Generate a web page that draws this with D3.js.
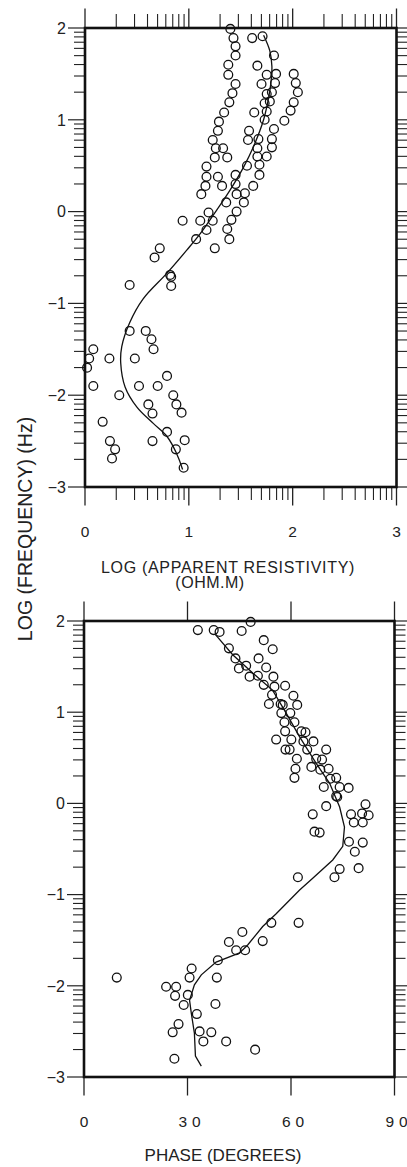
<!DOCTYPE html>
<meta charset="utf-8">
<script src="https://d3js.org/d3.v7.min.js"></script>
<style>
  body { margin: 0; background: #fff; }
  text { font-family: "Liberation Sans", Arial, sans-serif; fill: #222; }
</style>
<div id="my_dataviz"></div>

<script>
// ---- data ----
// top panel: [log apparent resistivity, log frequency]
var rhoInner = [
  [1.40,1.99],[1.43,1.89],[1.45,1.80],[1.45,1.70],[1.38,1.60],[1.38,1.49],[1.45,1.39],[1.42,1.29],
  [1.39,1.19],[1.34,1.08],[1.29,0.98],[1.28,0.88],[1.23,0.78],[1.26,0.69],[1.33,0.69],[1.25,0.59],
  [1.37,0.59],[1.17,0.49],[1.17,0.38],[1.28,0.38],[1.16,0.28],[1.32,0.28],[1.12,0.19],[1.36,0.10],
  [1.19,-0.01],[1.11,-0.10],[1.23,-0.10],[0.94,-0.10],[1.17,-0.20],[1.07,-0.30],[1.25,-0.40],[0.72,-0.40],
  [0.67,-0.50],[0.82,-0.69],[0.83,-0.71],[0.83,-0.81],[0.43,-0.80]
]
var rhoMiddle = [
  [1.61,1.89],[1.71,1.91],[1.82,1.70],[1.66,1.59],[1.75,1.49],[1.84,1.50],[1.70,1.39],[1.83,1.40],
  [1.80,1.30],[1.75,1.28],[1.78,1.20],[1.73,1.18],[1.75,1.09],[1.63,1.08],[1.73,1.00],[1.58,0.88],
  [1.82,0.90],[1.57,0.78],[1.67,0.79],[1.80,0.79],[1.66,0.69],[1.80,0.70],[1.66,0.60],[1.75,0.60],
  [1.68,0.51],[1.56,0.50],[1.68,0.40],[1.45,0.40],[1.62,0.28],[1.45,0.30],[1.54,0.20],[1.46,0.19],
  [1.53,0.10],[1.46,0.00],[1.41,-0.09],[1.37,-0.19],[1.39,-0.30]
]
var rhoOuter = [[2.01,1.50],[2.03,1.40],[2.05,1.30],[2.01,1.19],[1.98,1.10],[1.92,0.99]]
var rhoLow = [
  [0.43,-1.30],[0.585,-1.30],[0.64,-1.39],[0.66,-1.50],[0.08,-1.50],[0.04,-1.60],[0.02,-1.70],[0.235,-1.60],
  [0.48,-1.60],[0.79,-1.79],[0.08,-1.90],[0.52,-1.90],[0.70,-1.90],[0.33,-2.00],[0.85,-2.00],[0.61,-2.10],
  [0.88,-2.10],[0.65,-2.20],[0.93,-2.19],[0.17,-2.29],[0.79,-2.40],[0.24,-2.50],[0.65,-2.50],[0.96,-2.49],
  [0.29,-2.59],[0.875,-2.59],[0.26,-2.69],[0.95,-2.79]
]
var rhoModel = [
  [1.72,1.92],[1.78,1.75],[1.80,1.58],[1.79,1.40],[1.77,1.25],[1.72,1.00],[1.62,0.70],[1.53,0.49],
  [1.40,0.24],[1.27,0.02],[1.11,-0.24],[0.98,-0.42],[0.79,-0.67],[0.56,-0.95],[0.43,-1.21],[0.354,-1.47],
  [0.344,-1.65],[0.386,-1.91],[0.50,-2.13],[0.66,-2.31],[0.79,-2.45],[0.88,-2.63],[0.94,-2.81]
]

// bottom panel: [phase in degrees, log frequency]
var phasePoints = [
  [48.3,1.99],[33.0,1.90],[37.6,1.90],[39.3,1.88],[45.7,1.89],[52.1,1.79],[54.7,1.69],[42.0,1.70],
  [43.9,1.59],[50.6,1.59],[47.0,1.51],[44.9,1.48],[52.8,1.49],[48.0,1.39],[50.4,1.40],[54.9,1.39],
  [52.1,1.30],[55.2,1.28],[58.3,1.29],[54.5,1.19],[60.7,1.18],[53.6,1.09],[57.0,1.09],[57.6,1.08],
  [61.8,1.08],[57.2,0.99],[59.8,0.99],[58.1,0.89],[61.0,0.89],[63.0,0.79],[64.2,0.78],[58.3,0.79],
  [55.7,0.70],[60.1,0.70],[63.6,0.68],[66.5,0.68],[58.4,0.59],[59.6,0.59],[64.7,0.59],[70.2,0.59],
  [61.7,0.49],[67.3,0.49],[69.0,0.48],[61.3,0.38],[65.9,0.40],[68.5,0.37],[70.9,0.38],[61.0,0.28],
  [71.4,0.27],[73.1,0.28],[69.5,0.18],[74.1,0.18],[76.7,0.17],[73.1,0.08],[73.4,0.07],[70.2,-0.03],
  [81.6,-0.01],[66.3,-0.12],[77.4,-0.12],[80.6,-0.11],[82.5,-0.13],[78.2,-0.21],[80.8,-0.21],[66.8,-0.31],
  [68.3,-0.32],[76.8,-0.42],[80.8,-0.43],[78.5,-0.53],[79.6,-0.71],[74.1,-0.72],[72.6,-0.81],[62.0,-0.81],
  [62.2,-1.31],[54.3,-1.31],[45.9,-1.41],[42.0,-1.52],[51.8,-1.51],[44.1,-1.61],[46.7,-1.61],[38.8,-1.72],
  [31.2,-1.81],[30.6,-1.91],[38.5,-1.91],[9.5,-1.91],[23.8,-2.01],[26.7,-2.01],[26.4,-2.11],[30.1,-2.10],
  [28.9,-2.21],[38.1,-2.20],[32.7,-2.31],[27.4,-2.42],[25.7,-2.51],[33.5,-2.50],[36.9,-2.51],[34.6,-2.61],
  [41.2,-2.61],[49.6,-2.70],[26.2,-2.80]
]
var phaseModel = [
  [38.1,1.85],[43.1,1.63],[48.9,1.43],[54.7,1.24],[58.6,0.99],[62.5,0.73],[67.3,0.44],[71.2,0.22],
  [74.1,-0.04],[75.5,-0.26],[75.0,-0.47],[72.1,-0.62],[66.3,-0.82],[62.5,-0.95],[55.7,-1.21],[51.8,-1.35],
  [47.5,-1.55],[45.1,-1.64],[38.3,-1.74],[34.0,-1.88],[32.0,-1.99],[30.6,-2.16],[31.1,-2.30],[32.0,-2.52],
  [32.3,-2.77],[34.0,-2.88]
]

// ticks
var freqTicks = [-3, -2, -1, 0, 1, 2]
var rhoTicks = [0, 1, 2, 3]
var phaseTicks = [0, 30, 60, 90]

// log minor ticks inside each decade (2..9)
function minorTicks(lo, hi) {
  var out = []
  for (var d = lo; d < hi; d++)
    for (var k = 2; k < 10; k++) out.push(d + Math.log10(k))
  return out
}

var svg = d3.select("#my_dataviz")
  .append("svg")
  .attr("width", 407)
  .attr("height", 1167)

var fmtTick = function (d) { return d < 0 ? "\u2212" + Math.abs(d) : String(d) }

// plain tick marks drawn from a scale; side = left/right/top/bottom
function tickMarks(scale, values, side, at, len, w) {
  var vert = side == "left" || side == "right"
  var dir = (side == "left" || side == "top") ? -1 : 1
  svg.append("g").selectAll("line")
    .data(values)
    .enter().append("line")
    .attr(vert ? "y1" : "x1", function (d) { return scale(d) })
    .attr(vert ? "y2" : "x2", function (d) { return scale(d) })
    .attr(vert ? "x1" : "y1", at)
    .attr(vert ? "x2" : "y2", at + dir * len)
    .attr("stroke", "#222")
    .attr("stroke-width", w)
}

// draws one framed panel with log-frequency on the vertical axis
function panel(opt) {
  var x = d3.scaleLinear().domain(opt.xDomain).range([opt.left, opt.right])
  var y = d3.scaleLinear().domain([-3, 2]).range([opt.bottom, opt.top])

  // left / right log-frequency ticks
  tickMarks(y, minorTicks(-3, 2), "left", opt.left, 11, 1.1)
  tickMarks(y, freqTicks, "left", opt.left, 17, 1.2)
  tickMarks(y, minorTicks(-3, 2), "right", opt.right, 11, 1.1)
  tickMarks(y, freqTicks, "right", opt.right, 14, 1.2)

  svg.append("g").selectAll("text")
    .data(freqTicks)
    .enter().append("text")
    .attr("x", opt.left - 19)
    .attr("y", function (d) { return y(d) })
    .attr("dy", "0.36em")
    .attr("text-anchor", "end")
    .attr("font-size", 16)
    .attr("fill", "#333")
    .text(fmtTick)

  // top / bottom ticks
  if (opt.xMinor) {
    tickMarks(x, opt.xMinor, "top", opt.top, 14, 1.1)
    tickMarks(x, opt.xMinor, "bottom", opt.bottom, 13, 1.1)
  }
  tickMarks(x, opt.xTicks, "top", opt.top, 19.5, 1.3)
  tickMarks(x, opt.xTicks, "bottom", opt.bottom, 18.5, 1.3)

  // wide-spaced numerals as in the original plot
  svg.append("g").selectAll("text")
    .data(opt.xTicks)
    .enter().append("text")
    .attr("x", function (d) { return x(d) + 2.5 + (d >= 10 ? 2 : 0) })
    .attr("y", opt.bottom + opt.labelDrop)
    .attr("text-anchor", "middle")
    .attr("letter-spacing", "5px")
    .attr("font-size", 15.5)
    .attr("fill", "#333")
    .text(fmtTick)

  // frame
  svg.append("rect")
    .attr("x", opt.left).attr("y", opt.top)
    .attr("width", opt.right - opt.left).attr("height", opt.bottom - opt.top)
    .attr("fill", "none").attr("stroke", "#111").attr("stroke-width", 2.6)

  // model curve
  svg.append("path")
    .datum(opt.model)
    .attr("fill", "none").attr("stroke", "#111").attr("stroke-width", 1.3)
    .attr("d", d3.line().x(function (d) { return x(d[0]) }).y(function (d) { return y(d[1]) }).curve(opt.curve))

  // observed points
  svg.append("g").selectAll("circle")
    .data(opt.points)
    .enter().append("circle")
    .attr("cx", function (d) { return x(d[0]) })
    .attr("cy", function (d) { return y(d[1]) })
    .attr("r", 4.4)
    .attr("fill", "none").attr("stroke", "#111").attr("stroke-width", 1.3)
}

panel({
  left: 85, right: 396.5, top: 28, bottom: 487,
  xDomain: [0, 3], xTicks: rhoTicks, xMinor: minorTicks(0, 3), labelDrop: 50,
  model: rhoModel, curve: d3.curveCatmullRom,
  points: rhoInner.concat(rhoMiddle, rhoOuter, rhoLow)
})

panel({
  left: 84, right: 394.5, top: 621, bottom: 1077,
  xDomain: [0, 90], xTicks: phaseTicks, xMinor: null, labelDrop: 50,
  model: phaseModel, curve: d3.curveLinear,
  points: phasePoints
})

// titles
svg.append("text").attr("x", 228).attr("y", 572.5).attr("text-anchor", "middle")
  .attr("font-size", 16).attr("letter-spacing", "0.7px").text("LOG (APPARENT RESISTIVITY)")
svg.append("text").attr("x", 210).attr("y", 587.5).attr("text-anchor", "middle")
  .attr("font-size", 16).attr("letter-spacing", "0.5px").text("(OHM.M)")
svg.append("text").attr("x", 223).attr("y", 1161).attr("text-anchor", "middle")
  .attr("font-size", 17).text("PHASE (DEGREES)")
svg.append("text")
  .attr("transform", "translate(31.5,529) rotate(-90)")
  .attr("text-anchor", "middle")
  .attr("font-size", 19.5)
  .text("LOG (FREQUENCY) (Hz)")
</script>
